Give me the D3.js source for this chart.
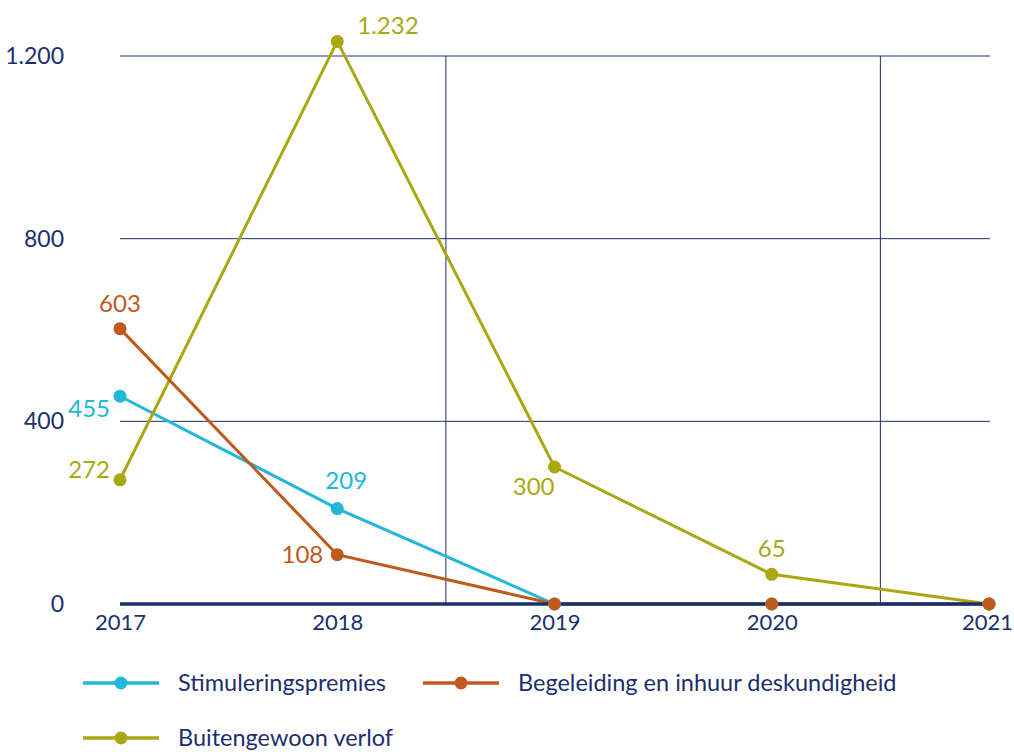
<!DOCTYPE html>
<html>
<head>
  <meta charset="utf-8">
  <script src="https://cdnjs.cloudflare.com/ajax/libs/d3/7.8.5/d3.min.js"></script>
  <style>
    body { margin: 0; background: #fff; }
    text { font-family: Lato, "Open Sans", sans-serif; }
    .tick text { fill: #1b2f6e; font-size: 23px; }
    .xaxis .tick text { font-size: 22px; }
    .label { font-size: 24px; }
    .legend text { fill: #1b2f6e; font-size: 23.5px; }
  </style>
</head>
<body>
  <svg width="1014" height="752"></svg>
  <script>
    var years = [2017, 2018, 2019, 2020, 2021];
    var yTicks = [0, 400, 800, 1200];
    var stimulering = [455, 209, 0, 0, 0];
    var begeleiding = [603, 108, 0, 0, 0];
    var verlof = [272, 1232, 300, 65, 0];

    var navy = "#1b2f6e";
    var series = [
      {name: "Stimuleringspremies", values: stimulering, color: "#21b8d9",
       labels: [[-10, 12, "end"], [9, -28, "middle"], null, null, null]},
      {name: "Buitengewoon verlof", values: verlof, color: "#a9a812",
       labels: [[-10, -10, "end"], [20, -16, "start"], [0, 20, "end"], [0, -26, "middle"], null]},
      {name: "Begeleiding en inhuur deskundigheid", values: begeleiding, color: "#c05a1c",
       labels: [[0, -25, "middle"], [-14, 0, "end"], null, null, null]}
    ];

    var svg = d3.select("svg");
    var x = d3.scalePoint().domain(years).range([120, 989]);
    var y = d3.scaleLinear().domain([0, 1200]).range([604, 56]);

    // horizontal grid
    svg.append("g")
      .selectAll("line")
      .data(yTicks.filter(d => d > 0))
      .enter()
      .append("line")
      .attr("x1", 120).attr("x2", 990)
      .attr("y1", d => y(d)).attr("y2", d => y(d))
      .attr("stroke", navy).attr("stroke-width", 1);

    // vertical separators between 2018/2019 and 2020/2021
    svg.append("g")
      .selectAll("line")
      .data([[2018, 2019], [2020, 2021]])
      .enter()
      .append("line")
      .attr("x1", d => (x(d[0]) + x(d[1])) / 2)
      .attr("x2", d => (x(d[0]) + x(d[1])) / 2)
      .attr("y1", y(1200)).attr("y2", y(0))
      .attr("stroke", navy).attr("stroke-width", 1);

    // y axis labels
    var yAxis = svg.append("g")
      .attr("transform", "translate(64,0)")
      .call(d3.axisLeft(y).tickValues(yTicks).tickSize(0).tickPadding(0)
        .tickFormat(d => d3.format(",")(d).replace(",", ".")));
    yAxis.select(".domain").remove();
    yAxis.selectAll(".tick text").attr("dy", "0.32em");

    // x axis labels
    var xAxis = svg.append("g")
      .attr("class", "xaxis")
      .attr("transform", "translate(0," + y(0) + ")")
      .call(d3.axisBottom(x).tickSize(0).tickPadding(10).tickFormat(d3.format("d")));
    xAxis.select(".domain").remove();
    xAxis.selectAll(".tick:last-of-type text").attr("dx", "-2");

    var line = d3.line().x((d, i) => x(years[i])).y(d => y(d));

    svg.append("g")
      .selectAll("path")
      .data(series)
      .enter()
      .append("path")
      .attr("d", d => line(d.values))
      .attr("fill", "none")
      .attr("stroke", d => d.color)
      .attr("stroke-width", 3);

    // zero line
    svg.append("line")
      .attr("x1", 120).attr("x2", 989)
      .attr("y1", y(0)).attr("y2", y(0))
      .attr("stroke", navy).attr("stroke-width", 3.5);

    series.forEach(s => {
      svg.append("g")
        .selectAll("circle")
        .data(s.values)
        .enter()
        .append("circle")
        .attr("cx", (d, i) => x(years[i]))
        .attr("cy", d => y(d))
        .attr("r", 6.5)
        .attr("fill", s.color);

      svg.append("g")
        .selectAll("text")
        .data(s.values.map((v, i) => ({v: v, i: i, l: s.labels[i]})).filter(d => d.l))
        .enter()
        .append("text")
        .attr("class", "label")
        .attr("x", d => x(years[d.i]) + d.l[0])
        .attr("y", d => y(d.v) + d.l[1])
        .attr("dy", "0.35em")
        .attr("text-anchor", d => d.l[2])
        .attr("fill", s.color)
        .text(d => d3.format(",")(d.v).replace(",", "."));
    });

    // legend
    var legendItems = [
      {s: series[0], x: 83, y: 683},
      {s: series[2], x: 423, y: 683},
      {s: series[1], x: 83, y: 738}
    ];
    var lg = svg.append("g").attr("class", "legend")
      .selectAll("g")
      .data(legendItems)
      .enter()
      .append("g")
      .attr("transform", d => "translate(" + d.x + "," + d.y + ")");
    lg.append("line")
      .attr("x1", 0).attr("x2", 76)
      .attr("stroke", d => d.s.color).attr("stroke-width", 3.5);
    lg.append("circle")
      .attr("cx", 38).attr("r", 6.5)
      .attr("fill", d => d.s.color);
    lg.append("text")
      .attr("x", 95).attr("dy", "0.35em")
      .text(d => d.s.name);
  </script>
</body>
</html>
